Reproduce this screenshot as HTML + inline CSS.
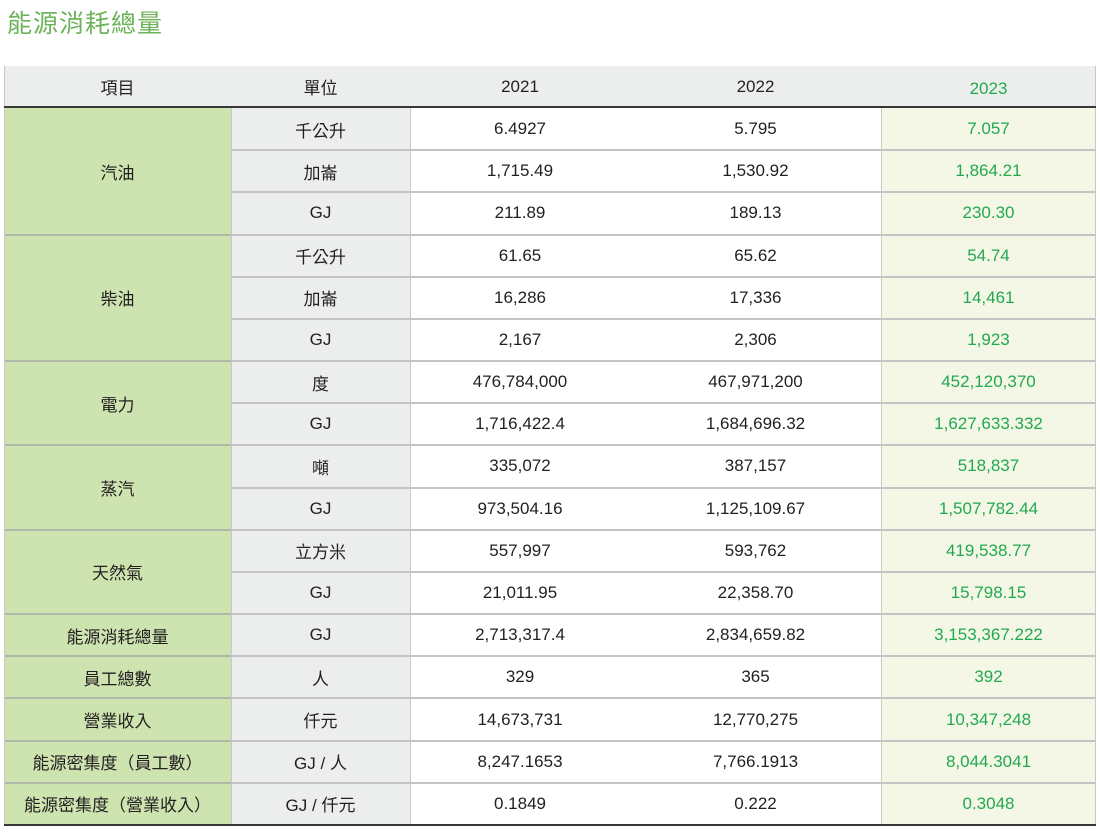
<!DOCTYPE html>
<html><head><meta charset="utf-8">
<style>
body{margin:0;width:1100px;height:839px;background:#fff;font-family:"Liberation Sans","Noto Sans CJK TC",sans-serif;position:relative;overflow:hidden}
.t{position:absolute;left:7px;top:4px;font-size:25px;color:#6db35a;letter-spacing:1px;font-family:"Noto Sans CJK TC",sans-serif}
.c{position:absolute;display:flex;align-items:center;justify-content:center;font-size:17px;color:#231f20;box-sizing:border-box;font-family:"Liberation Sans","Noto Sans CJK TC",sans-serif}
.ln{position:absolute;background:#bdbdbd}
</style></head>
<body>
<div class="t">能源消耗總量</div>
<div id="tbl"></div>
<script>
const groups=[["汽油",3],["柴油",3],["電力",2],["蒸汽",2],["天然氣",2],["能源消耗總量",1],["員工總數",1],["營業收入",1],["能源密集度（員工數）",1],["能源密集度（營業收入）",1]];
const units=["千公升","加崙","GJ","千公升","加崙","GJ","度","GJ","噸","GJ","立方米","GJ","GJ","人","仟元","GJ / 人","GJ / 仟元"];
const v2021=["6.4927","1,715.49","211.89","61.65","16,286","2,167","476,784,000","1,716,422.4","335,072","973,504.16","557,997","21,011.95","2,713,317.4","329","14,673,731","8,247.1653","0.1849"];
const v2022=["5.795","1,530.92","189.13","65.62","17,336","2,306","467,971,200","1,684,696.32","387,157","1,125,109.67","593,762","22,358.70","2,834,659.82","365","12,770,275","7,766.1913","0.222"];
const v2023=["7.057","1,864.21","230.30","54.74","14,461","1,923","452,120,370","1,627,633.332","518,837","1,507,782.44","419,538.77","15,798.15","3,153,367.222","392","10,347,248","8,044.3041","0.3048"];
const cols=[4,231,410,630,881,1096];
const T=108,RH=(825-108)/17;
const root=document.getElementById('tbl');
function cell(x,y,w,h,txt,bg,color,name){
  const d=document.createElement('div');d.className='c';
  d.style.left=x+'px';d.style.top=y+'px';d.style.width=w+'px';d.style.height=h+'px';
  if(bg)d.style.background=bg;if(color)d.style.color=color;
  d.textContent=txt;
  
  
  root.appendChild(d);return d;}
function line(x,y,w,h,c,name){
  const d=document.createElement('div');d.className='ln';
  d.style.left=x+'px';d.style.top=y+'px';d.style.width=w+'px';d.style.height=h+'px';
  if(c)d.style.background=c;
  
  
  root.appendChild(d);}
// header
const hdr=["項目","單位","2021","2022","2023"];
cell(4,66,1092,41,"","#eceeed",null,'header-row');
hdr.forEach((h,i)=>{const c=cell(cols[i],66,cols[i+1]-cols[i],41,h,null,i==4?"#22a94f":null,'header-cell');if(i==4)c.style.paddingTop='4px';});
// body
for(let r=0;r<17;r++){
  const y=T+r*RH;
  cell(cols[1],y,cols[2]-cols[1],RH,units[r],"#eceeed",null,'unit-cell');
  cell(cols[2],y,cols[3]-cols[2],RH,v2021[r],"#fff",null,'value-2021');
  cell(cols[3],y,cols[4]-cols[3],RH,v2022[r],"#fff",null,'value-2022');
  cell(cols[4],y,cols[5]-cols[4],RH,v2023[r],"#f4f7e6","#22a94f",'value-2023');
  if(r>0)line(cols[1],Math.round(y)-1,cols[5]-cols[1],2,'#c4c4c4','row-divider');
}
let rr=0;
groups.forEach(g=>{
  const y=T+rr*RH;
  cell(cols[0],y,cols[1]-cols[0],RH*g[1],g[0],"#cde3b0",null,'item-cell');
  if(rr>0)line(cols[0],Math.round(y)-1,cols[1]-cols[0],2,'#b0b8a8','group-divider');
  rr+=g[1];
});
[cols[1],cols[2],cols[4]].forEach(x=>line(x,T,1,825-T,'#c8c8c8','column-divider'));
line(4,66,1,760,'#c8c8c8','left-border');
line(1095,66,1,760,'#c8c8c8','right-border');
line(4,106,1092,2,'#3a3536','header-bottom-border');
line(4,824,1092,2,'#3a3536','table-bottom-border');
</script>
</body></html>
